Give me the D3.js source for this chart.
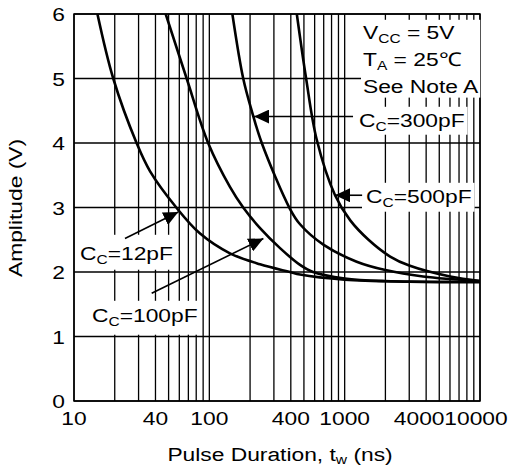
<!DOCTYPE html>
<html>
<head>
<meta charset="utf-8">
<script src="https://cdn.jsdelivr.net/npm/d3@7"></script>
<style>
  body { margin: 0; background: #fff; }
  text { font-family: "Liberation Sans", Arial, sans-serif; fill: #000; }
</style>
</head>
<body>
<div id="chart"></div>
<script>
// pulse duration t (ns) vs amplitude (V), one array per coupling capacitor
var cc12 = [[14.9,6],[19.5,5],[29,4],[36.5,3.56],[57,3],[85,2.6],[142,2.29],[237,2.12],[394,2.0],[468,1.96],[1000,1.88],[3000,1.85],[10000,1.84]];
var cc100 = [[47.6,6],[68,5],[98,4],[142,3.32],[178,3],[237,2.68],[333,2.37],[468,2.11],[584,2.0],[1000,1.9],[2000,1.86],[10000,1.85]];
var cc300 = [[148,6],[178,5],[207,4.48],[244,4],[394,2.98],[468,2.74],[700,2.42],[1227,2.16],[2000,2.03],[3793,1.93],[10000,1.86]];
var cc500 = [[443,6],[519,5],[622,4.05],[849,3.19],[1100,2.8],[1500,2.5],[2168,2.24],[3000,2.1],[6012,1.93],[10000,1.86]];

var seriesNames = ["12pF", "100pF", "300pF", "500pF"];
var xTickLabels = [10, 40, 100, 400, 1000, 4000, 10000];
var yTickLabels = [0, 1, 2, 3, 4, 5, 6];
var noteLines = [["V", "CC", " = 5V"], ["T", "A", " = 25\u2103"], ["See Note A", "", ""]];

// arrow [tail, tip] in data units
var arrow12 = [[23.8, 2.52], [59, 2.93]];
var arrow100 = [[37.5, 1.67], [251, 2.52]];
var arrow300 = [[1153, 4.41], [214, 4.41]];
var arrow500 = [[1346, 3.19], [849, 3.19]];

var W = 512, H = 468;
var pL = 74, pR = 480, pT = 14, pB = 401;
var SX = 1.2; // glyphs in the original are wider than Arial

var svg = d3.select("#chart").append("svg").attr("width", W).attr("height", H);

var x = d3.scaleLog().domain([10, 10000]).range([pL, pR]);
var y = d3.scaleLinear().domain([0, 6]).range([pB, pT]);

// grid
var minor = [];
[10, 100, 1000].forEach(function (d) {
  for (var k = 1; k < 10; k++) minor.push(d * k);
});
minor.push(10000);

svg.append("g").selectAll("line").data(minor).enter().append("line")
  .attr("x1", function (d) { return x(d); }).attr("x2", function (d) { return x(d); })
  .attr("y1", pT).attr("y2", pB)
  .attr("stroke", "#000").attr("stroke-width", 1.3);

svg.append("g").selectAll("line").data(yTickLabels).enter().append("line")
  .attr("x1", pL).attr("x2", pR)
  .attr("y1", function (d) { return y(d); }).attr("y2", function (d) { return y(d); })
  .attr("stroke", "#000").attr("stroke-width", 1.3);

svg.append("rect").attr("x", pL).attr("y", pT)
  .attr("width", pR - pL).attr("height", pB - pT)
  .attr("fill", "none").attr("stroke", "#000").attr("stroke-width", 1.5);

// helper: stretched text, parts = [main, sub, rest]
function stretched(g, px, py, parts, size, anchor) {
  var t = g.append("text")
    .attr("transform", "translate(" + px + "," + py + ") scale(" + SX + ",1)")
    .attr("text-anchor", anchor || "start")
    .style("font-size", size + "px");
  t.append("tspan").text(parts[0]);
  if (parts[1]) t.append("tspan").attr("dy", 4).style("font-size", (size * 0.68) + "px").text(parts[1]);
  if (parts[2]) t.append("tspan").attr("dy", parts[1] ? -4 : 0).text(parts[2]);
  return t;
}

// white boxes behind labels
function boxed(px, py, lines, lineGap, pad) {
  var g = svg.append("g");
  var bg = g.append("rect").attr("fill", "#fff");
  var tg = g.append("g");
  lines.forEach(function (l, i) { stretched(tg, px, py + i * lineGap, l, 19); });
  var b = tg.node().getBBox();
  bg.attr("x", b.x - pad[3]).attr("y", b.y - pad[0])
    .attr("width", b.width + pad[1] + pad[3]).attr("height", b.height + pad[0] + pad[2]);
  return g;
}

boxed(363, 39, noteLines, 27, [2, 2, 1, 2]);
boxed(359, 127, [["C", "C", "=" + seriesNames[2]]], 0, [3, 3, 1, 6]);
boxed(366, 203, [["C", "C", "=" + seriesNames[3]]], 0, [3, 3, 2, 4]);
boxed(80, 260, [["C", "C", "=" + seriesNames[0]]], 0, [8, 3, 3, 3]);
boxed(92, 322, [["C", "C", "=" + seriesNames[1]]], 0, [4, 3, 6, 3]);

// curves
var line = d3.line()
  .x(function (d) { return x(d[0]); })
  .y(function (d) { return y(d[1]); })
  .curve(d3.curveCatmullRom.alpha(0.5));

svg.append("clipPath").attr("id", "plot").append("rect")
  .attr("x", pL).attr("y", pT).attr("width", pR - pL).attr("height", pB - pT);

svg.append("g").attr("clip-path", "url(#plot)")
  .selectAll("path").data([cc12, cc100, cc300, cc500]).enter().append("path")
  .attr("d", line).attr("fill", "none").attr("stroke", "#000").attr("stroke-width", 2.6);

// arrows
svg.append("defs").append("marker").attr("id", "head")
  .attr("viewBox", "0 -7 15 14").attr("refX", 15).attr("refY", 0)
  .attr("markerWidth", 15).attr("markerHeight", 14)
  .attr("markerUnits", "userSpaceOnUse").attr("orient", "auto")
  .append("path").attr("d", "M0,-7L15,0L0,7Z").attr("fill", "#000");

svg.append("g").selectAll("line").data([arrow12, arrow100, arrow300, arrow500]).enter().append("line")
  .attr("x1", function (d) { return x(d[0][0]); }).attr("y1", function (d) { return y(d[0][1]); })
  .attr("x2", function (d) { return x(d[1][0]); }).attr("y2", function (d) { return y(d[1][1]); })
  .attr("stroke", "#000").attr("stroke-width", 1.6).attr("marker-end", "url(#head)");

// tick labels
var ticks = svg.append("g");
yTickLabels.forEach(function (d) {
  stretched(ticks, 65, y(d) + 7, [String(d)], 19, "end");
});
xTickLabels.forEach(function (d) {
  var px = x(d);
  if (d === 4000) px -= 7;
  if (d === 10000) px -= 4;
  stretched(ticks, px, 425, [String(d)], 19, "middle");
});

// axis titles
var xt = svg.append("text")
  .attr("transform", "translate(280,461) scale(" + SX + ",1)")
  .attr("text-anchor", "middle").style("font-size", "19px");
xt.append("tspan").text("Pulse Duration, t");
xt.append("tspan").attr("dy", 3).style("font-size", "13px").text("w");
xt.append("tspan").attr("dy", -3).text(" (ns)");

svg.append("text")
  .attr("transform", "translate(22,208) rotate(-90) scale(" + SX + ",1)")
  .attr("text-anchor", "middle").style("font-size", "19px")
  .text("Amplitude (V)");
</script>
</body>
</html>
